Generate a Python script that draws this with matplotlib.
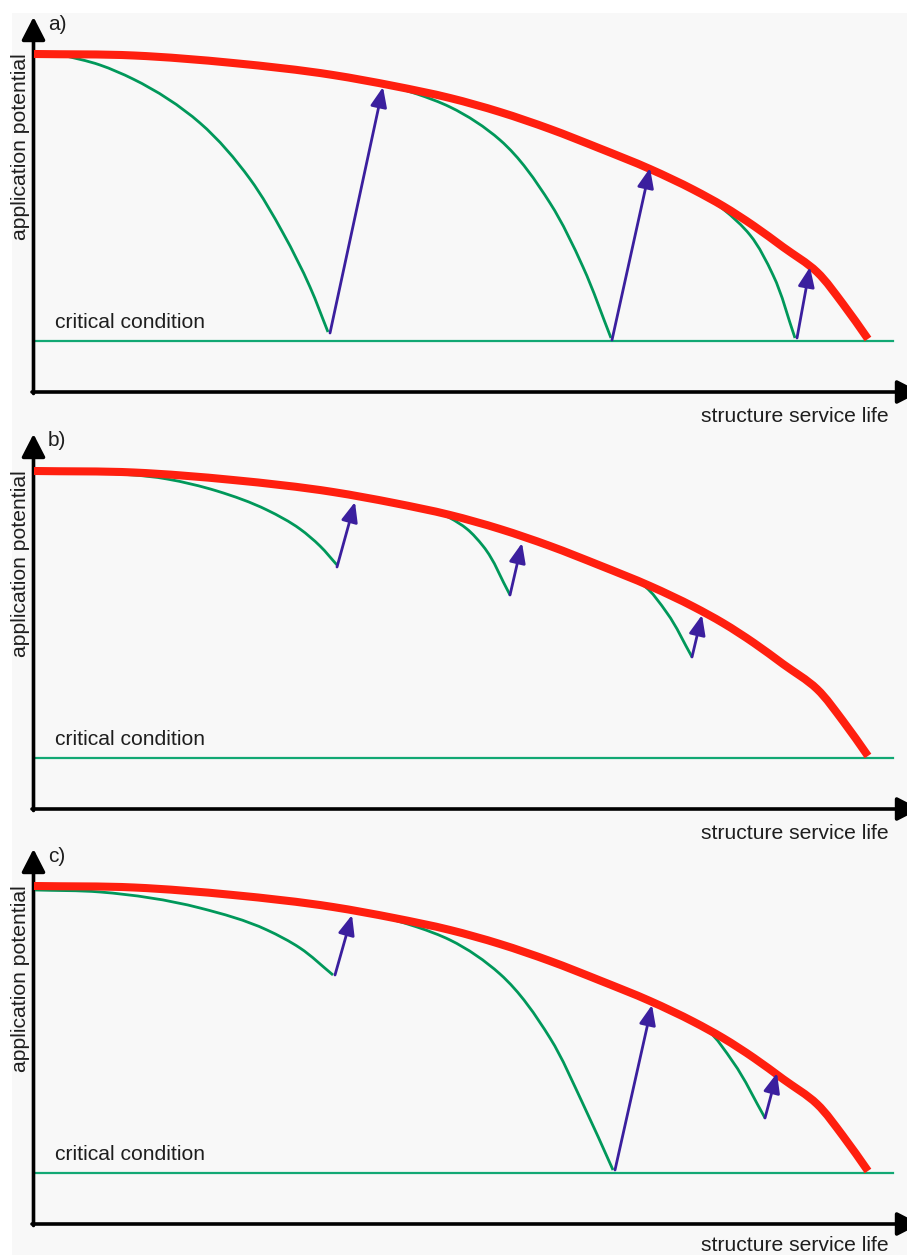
import matplotlib
matplotlib.use("Agg")
import matplotlib.pyplot as plt
from matplotlib.path import Path
from matplotlib.patches import PathPatch
import math

# ---------------- data (x: service life, y: application potential) -------------
red_x = [0, 100, 199, 299, 360, 416, 466, 516, 566, 616, 660, 689, 720, 749, 783, 809, 834]
red_y = [338, 336.5, 329, 317, 306, 294, 280, 263, 243.5, 223, 202, 186, 166, 145, 120, 88, 53]

critical_level = 51
critical_x = [2, 859]

# panel a
a_g1_x = [26, 66, 99, 166, 216, 249, 276, 294]
a_g1_y = [337.5, 327, 313, 269, 213, 159, 105, 60]
a_g2_x = [355, 383, 416, 466, 516, 549, 577]
a_g2_y = [306.5, 298, 285, 252, 189, 125, 54]
a_g3_x = [665, 689, 716, 739, 761]
a_g3_y = [200, 183, 157, 117, 54]
a_arrows = [((296, 59), (349, 305)), ((578, 52), (616, 224)), ((763, 54), (776, 125))]

# panel b
b_g1_x = [60, 133, 183, 233, 266, 286, 303]
b_g1_y = [337, 330, 318, 299, 280, 263, 244]
b_g2_x = [395, 416, 433, 449, 476]
b_g2_y = [300, 291, 280, 263, 214]
b_g3_x = [595, 609, 633, 658]
b_g3_y = [232, 224, 196, 152]
b_arrows = [((303, 242), (321, 307)), ((476, 214), (488, 266)), ((658, 152), (668, 194))]

# panel c
c_g1_x = [1, 66, 166, 233, 266, 299]
c_g1_y = [334, 332, 316, 294, 276, 249]
c_g2_x = [360, 383, 416, 466, 516, 549, 579]
c_g2_y = [304, 297, 284, 250, 186, 120, 54]
c_g3_x = [650, 673, 699, 731]
c_g3_y = [207, 194, 162, 106]
c_arrows = [((301, 249), (318, 309)), ((581, 54), (618, 219)), ((731, 106), (743, 151))]

panel_labels = ["a)", "b)", "c)"]
y_label = "application potential"
x_label = "structure service life"
crit_label = "critical condition"

# ---------------- styling -------------
RED = "#ff1f0f"
GREEN = "#00985a"
GREEN_LINE = "#12a874"
BLUE = "#3b1f9e"
TXT = "#1e1e1e"
FONT = "Liberation Sans"


def smooth_path(xs, ys):
    """Smooth curve through the given points (chord-length Hermite -> Bezier)."""
    pts = list(zip(xs, ys))
    n = len(pts)
    d = [math.hypot(pts[k + 1][0] - pts[k][0], pts[k + 1][1] - pts[k][1]) for k in range(n - 1)]
    tang = []
    for k in range(n):
        if k == 0:
            tx = (pts[1][0] - pts[0][0]) / d[0]
            ty = (pts[1][1] - pts[0][1]) / d[0]
        elif k == n - 1:
            tx = (pts[k][0] - pts[k - 1][0]) / d[k - 1]
            ty = (pts[k][1] - pts[k - 1][1]) / d[k - 1]
        else:
            a, b = d[k - 1], d[k]
            tx = (b * (pts[k][0] - pts[k - 1][0]) / a + a * (pts[k + 1][0] - pts[k][0]) / b) / (a + b)
            ty = (b * (pts[k][1] - pts[k - 1][1]) / a + a * (pts[k + 1][1] - pts[k][1]) / b) / (a + b)
        tang.append((tx, ty))
    verts = [pts[0]]
    codes = [Path.MOVETO]
    for k in range(n - 1):
        p1, p2 = pts[k], pts[k + 1]
        h = d[k] / 3.0
        c1 = (p1[0] + tang[k][0] * h, p1[1] + tang[k][1] * h)
        c2 = (p2[0] - tang[k + 1][0] * h, p2[1] - tang[k + 1][1] * h)
        verts += [c1, c2, p2]
        codes += [Path.CURVE4] * 3
    return Path(verts, codes)


W, H = 907, 1255
fig = plt.figure(figsize=(W / 100, H / 100), dpi=100)
fig.patch.set_facecolor("white")

# light grey canvas (white margin top/left)
bg = fig.add_axes([12 / W, 0, 1 - 12 / W, 1 - 13 / H], zorder=-10)
bg.set_facecolor("#f8f8f8")
bg.set_xticks([]); bg.set_yticks([])
for s in bg.spines.values():
    s.set_visible(False)

bases = [392, 809, 1224]
xlabel_y = [-30, -30, -27]
greens = [
    [(a_g1_x, a_g1_y), (a_g2_x, a_g2_y), (a_g3_x, a_g3_y)],
    [(b_g1_x, b_g1_y), (b_g2_x, b_g2_y), (b_g3_x, b_g3_y)],
    [(c_g1_x, c_g1_y), (c_g2_x, c_g2_y), (c_g3_x, c_g3_y)],
]
arrows = [a_arrows, b_arrows, c_arrows]

for i, base in enumerate(bases):
    top_px = base - 390
    bot_px = base + 27
    ax = fig.add_axes([0, (H - bot_px) / H, 1, (bot_px - top_px) / H], zorder=1 + i)
    ax.set_xlim(-34, 873)
    ax.set_ylim(-27, 390)
    ax.axis("off")
    ax.patch.set_alpha(0)

    # axes with arrows
    ax.annotate("", xy=(-0.5, 375), xytext=(-0.5, -1.5),
                arrowprops=dict(arrowstyle="-|>,head_length=14,head_width=7.2",
                                mutation_scale=1, color="black", lw=2.6,
                                shrinkA=0, shrinkB=0), annotation_clip=False)
    ax.annotate("", xy=(886, 0), xytext=(-2, 0),
                arrowprops=dict(arrowstyle="-|>,head_length=14,head_width=7.2",
                                mutation_scale=1, color="black", lw=2.6,
                                shrinkA=0, shrinkB=0), annotation_clip=False)

    # critical condition line
    ax.plot(critical_x, [critical_level, critical_level], color=GREEN_LINE, lw=1.6, zorder=2)

    # green deterioration curves
    for gx, gy in greens[i]:
        ax.add_patch(PathPatch(smooth_path(gx, gy), fill=False, edgecolor=GREEN,
                               lw=2.0, zorder=3, capstyle="butt", joinstyle="round"))

    # red envelope
    ax.add_patch(PathPatch(smooth_path(red_x, red_y), fill=False, edgecolor=RED,
                           lw=5.8, zorder=4, capstyle="butt", joinstyle="round"))

    # blue repair arrows
    for (x0, y0), (x1, y1) in arrows[i]:
        ax.annotate("", xy=(x1, y1), xytext=(x0, y0),
                    arrowprops=dict(arrowstyle="-|>,head_length=12,head_width=5",
                                    mutation_scale=1, color=BLUE, lw=2.0,
                                    shrinkA=0, shrinkB=0), zorder=5)

    # texts
    ax.text(14, 368, panel_labels[i], fontsize=15, family=FONT, color=TXT,
            ha="left", va="center")
    ax.text(-13, 245, y_label, fontsize=15.2, family=FONT, color=TXT,
            rotation=90, ha="center", va="center")
    ax.text(21, 64, crit_label, fontsize=15.2, family=FONT, color=TXT,
            ha="left", va="baseline")
    ax.text(855, xlabel_y[i], x_label, fontsize=15.2, family=FONT, color=TXT,
            ha="right", va="baseline")

fig.savefig("out.png", dpi=100, facecolor=fig.get_facecolor())
